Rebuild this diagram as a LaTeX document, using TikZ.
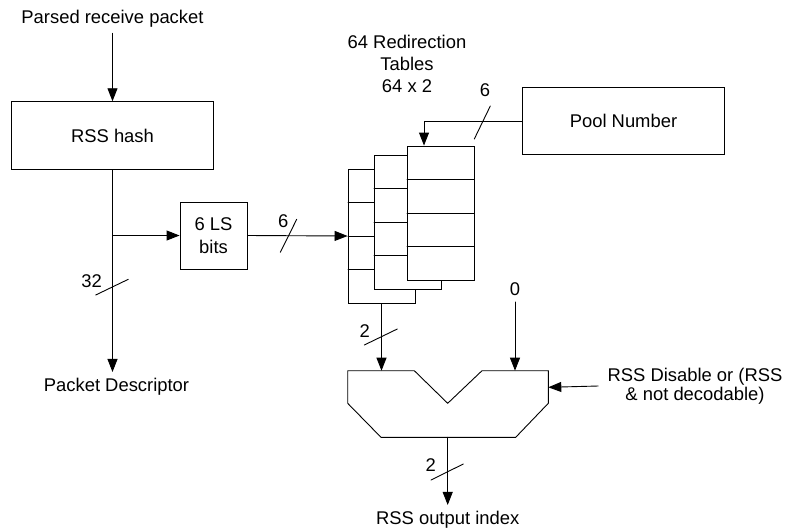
\documentclass[tikz,border=0pt]{standalone}
\usepackage{fontspec}
\setmainfont{Liberation Sans}
\usetikzlibrary{arrows.meta}

\begin{document}
\begin{tikzpicture}[x=1pt,y=-1pt,>={Triangle[length=13pt,width=10pt]},line width=0.9pt,line cap=round,
  font=\fontsize{18.4}{22}\selectfont,
  box/.style={draw,inner sep=0pt,align=center},
  tbl/.style={draw,fill=white,inner sep=0pt,minimum width=67pt,minimum height=134pt},
  txt/.style={inner sep=6pt,align=center},
  wlbl/.style={inner sep=0pt}]
\useasboundingbox (0,0) rectangle (787,531);
% blocks
\node[txt] (parsed) at (112.5,18.3) {Parsed receive packet};
\node[box,minimum width=201.6pt,minimum height=67.6pt] (hash) at (112.5,135.5) {RSS hash};
\node[box,minimum width=67pt,minimum height=67pt,font=\fontsize{18.4}{23}\selectfont] (lsb) at (213.5,235.5) {6 LS\\bits};
\node[txt] (desc) at (116.5,387) {Packet Descriptor};
\node[box,minimum width=201.6pt,minimum height=66.3pt] (pool) at (623.5,121) {Pool Number};
\node[txt,font=\fontsize{18.4}{21.6}\selectfont] (tbltitle) at (407,64) {64 Redirection\\Tables\\64 x 2};
% redirection tables, back to front
\foreach \x/\y/\n in {381.5/236/1,407.5/222/2,440.5/213/3}{
  \node[tbl] (tbl\n) at (\x,\y) {};
  \foreach \k in {-1,0,1}
    \draw (\x-33.5,\y+\k*33.5) -- (\x+33.5,\y+\k*33.5);
}
% mux
\draw (347.7,370.7) -- (414.3,370.7) -- (447.7,403.3) -- (482,370.7) -- (548.3,370.7)
  -- (548.3,403.3) -- (515.7,437.3) -- (381,437.3) -- (347.7,403.3) -- cycle;
\coordinate (muxA) at (381.5,370.7);
\coordinate (muxB) at (515,370.7);
\coordinate (muxC) at (548.3,387.3);
\coordinate (muxO) at (447.7,437.3);
\node[txt] (zero) at (515,289) {0};
\node[txt,inner xsep=9pt,font=\fontsize{18.4}{19}\selectfont] (dis) at (695,386) {RSS Disable or (RSS\\\& not decodable)};
\node[txt] (outidx) at (447.7,520) {RSS output index};
% connectors
\draw[->] (parsed.south) -- (hash.north);
\draw[->] (hash.south) -- (hash.south |- desc.north);
\draw[->] (hash.south |- lsb.west) -- (lsb.west);
\draw[->] (lsb.east) -- (tbl1.west);
\draw[->] (pool.west) -| ([xshift=-16.5pt]tbl3.north);
\draw[->] (tbl1.south) -- (muxA);
\draw[->] (zero.south) -- (muxB);
\draw[->] (dis.west) -- (muxC);
\draw[->] (muxO) -- (outidx.north);
% bus widths
\draw (95.7,295) -- (128.3,279.3);
\node[wlbl] (w32) at (91.7,281) {32};
\draw (280.3,252.3) -- (296.7,219.3);
\node[wlbl] (w6a) at (283.3,221) {6};
\draw (474.3,139) -- (490.3,106);
\node[wlbl] (w6b) at (485,90) {6};
\draw (364.3,345) -- (397.3,329);
\node[wlbl] (w2a) at (364.7,331) {2};
\draw (431,480) -- (463.3,464);
\node[wlbl] (w2b) at (430.7,465) {2};
\end{tikzpicture}
\end{document}
